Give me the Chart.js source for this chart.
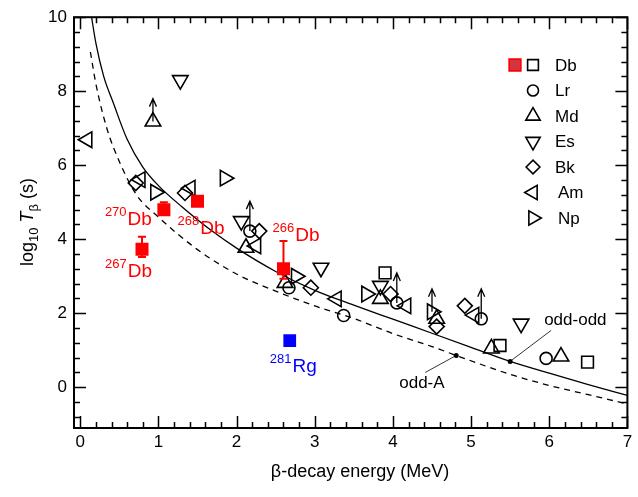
<!DOCTYPE html>
<html>
<head>
<meta charset="utf-8">
<script src="https://cdn.jsdelivr.net/npm/chart.js@4/dist/chart.umd.min.js"></script>
<style>
  html, body { margin: 0; padding: 0; background: #fff; }
  #c { display: block; }
</style>
</head>
<body>
<canvas id="c" width="638" height="497"></canvas>
<script>
// tick values
const xTicks = [0, 1, 2, 3, 4, 5, 6, 7];
const yTicks = [0, 2, 4, 6, 8, 10];

// systematics curves: odd-odd (solid) and odd-A (dashed)
const oddOddE = [0.13, 0.2, 0.3, 0.42, 0.6, 0.8, 1.0, 1.3, 1.7, 2.0, 2.5, 3.0, 3.5, 4.0, 4.5, 5.0, 5.5, 6.0, 6.5, 7.0];
const oddOddT = [10.2, 9.3, 8.4, 7.7, 6.7, 5.95, 5.45, 4.88, 4.2, 3.76, 3.13, 2.62, 2.22, 1.84, 1.46, 1.08, 0.70, 0.38, 0.07, -0.22];
const oddAE = [0.13, 0.2, 0.34, 0.5, 0.72, 1.0, 1.5, 2.0, 2.5, 3.0, 3.5, 4.0, 4.5, 4.81, 5.5, 6.0, 6.5, 7.0];
const oddAT = [9.06, 8.2, 7.0, 6.1, 5.2, 4.6, 3.72, 3.06, 2.6, 2.2, 1.86, 1.45, 1.1, 0.86, 0.35, 0.05, -0.2, -0.45];

// marked points on the curves
const curveDotE = [5.5, 4.81];
const curveDotT = [0.70, 0.86];
const curveDotText = ['odd-odd', 'odd-A'];

// new Db isotopes (red) and 281Rg (blue)
const dbMass = ['270', '268', '267', '266'];
const dbE = [1.07, 1.50, 0.79, 2.60];
const dbT = [4.80, 5.03, 3.73, 3.20];
const dbErrLo = [4.68, null, 3.52, 2.93];
const dbErrHi = [5.00, null, 4.07, 3.95];
const rgMass = ['281'];
const rgE = [2.68];
const rgT = [1.26];

// known nuclei, open symbols
const dbOpenE = [3.90, 5.37, 6.49];
const dbOpenT = [3.09, 1.13, 0.68];
const lrE = [2.17, 2.67, 3.37, 4.05, 5.13, 5.96];
const lrT = [4.22, 2.69, 1.94, 2.28, 1.85, 0.78];
const mdE = [0.93, 2.12, 2.62, 3.84, 4.56, 5.26, 6.15];
const mdT = [7.18, 3.77, 2.82, 2.39, 1.85, 1.05, 0.83];
const esE = [1.28, 2.06, 3.08, 3.84, 5.64];
const esT = [8.30, 4.49, 3.23, 2.74, 1.72];
const bkE = [0.71, 1.34, 2.29, 2.95, 3.97, 4.56, 4.92];
const bkT = [5.52, 5.25, 4.22, 2.69, 2.52, 1.64, 2.20];
const amE = [0.09, 0.77, 1.41, 2.25, 3.28, 4.17, 5.04];
const amT = [6.69, 5.61, 5.38, 3.82, 2.39, 2.20, 1.95];
const npE = [0.96, 1.85, 2.76, 3.66, 4.50];
const npT = [5.27, 5.65, 3.00, 2.52, 2.04];

// lower limits (arrows)
const arrowE = [0.93, 2.17, 4.05, 4.50, 5.13];
const arrowFrom = [7.18, 4.22, 2.28, 2.04, 1.85];
const arrowTo = [7.80, 5.03, 3.09, 2.66, 2.66];

const legendNames = ['Db', 'Lr', 'Md', 'Es', 'Bk', 'Am', 'Np'];

const FONT = '"Liberation Sans", Arial, sans-serif';
const RED = '#ff0000';
const BLUE = '#0000ff';

const symbols = {
  Db: { pointStyle: 'rect', radius: 8.3, rotation: 0 },
  Lr: { pointStyle: 'circle', radius: 6, rotation: 0 },
  Md: { pointStyle: 'triangle', radius: 9, rotation: 0 },
  Es: { pointStyle: 'triangle', radius: 9, rotation: 180 },
  Bk: { pointStyle: 'rectRot', radius: 7.5, rotation: 0 },
  Am: { pointStyle: 'triangle', radius: 9, rotation: 270 },
  Np: { pointStyle: 'triangle', radius: 9, rotation: 90 }
};

function pts(xs, ys) {
  return xs.map((v, i) => ({ x: v, y: ys[i] }));
}

function openSet(name, xs, ys) {
  const s = symbols[name];
  return {
    label: name,
    data: pts(xs, ys),
    showLine: false,
    pointStyle: s.pointStyle,
    pointRadius: s.radius,
    pointRotation: s.rotation,
    pointBorderWidth: 1.6,
    pointBorderColor: '#000',
    pointBackgroundColor: 'rgba(0,0,0,0)',
    order: 2
  };
}

// frame with inward ticks on all sides
const framePlugin = {
  id: 'frame',
  afterDatasetsDraw(chart) {
    const { ctx, chartArea: a, scales: { x, y } } = chart;
    ctx.save();
    ctx.strokeStyle = '#000';
    ctx.lineWidth = 1.5;
    ctx.beginPath();
    for (let i = 0; i <= 35; i++) {
      const px = Math.round(x.getPixelForValue(i * 0.2)) + 0.5;
      const len = i % 5 === 0 ? 12 : 6;
      ctx.moveTo(px, a.bottom); ctx.lineTo(px, a.bottom - len);
      ctx.moveTo(px, a.top); ctx.lineTo(px, a.top + len);
    }
    for (let i = -2; i <= 25; i++) {
      const py = Math.round(y.getPixelForValue(i * 0.4)) + 0.5;
      const len = i % 5 === 0 ? 12 : 6;
      ctx.moveTo(a.left, py); ctx.lineTo(a.left + len, py);
      ctx.moveTo(a.right, py); ctx.lineTo(a.right - len, py);
    }
    ctx.stroke();
    ctx.lineWidth = 2;
    ctx.strokeRect(a.left, a.top, a.right - a.left, a.bottom - a.top);
    ctx.restore();
  }
};

// error bars, arrows, labels, legend, axis titles
const extrasPlugin = {
  id: 'extras',
  afterDatasetsDraw(chart) {
    const { ctx, scales: { x, y } } = chart;
    ctx.save();

    // error bars on Db
    ctx.strokeStyle = RED;
    ctx.lineWidth = 2;
    dbE.forEach((e, i) => {
      if (dbErrLo[i] == null) return;
      const px = x.getPixelForValue(e);
      const lo = y.getPixelForValue(dbErrLo[i]);
      const hi = y.getPixelForValue(dbErrHi[i]);
      ctx.beginPath();
      ctx.moveTo(px, lo); ctx.lineTo(px, hi);
      ctx.moveTo(px - 4, lo); ctx.lineTo(px + 4, lo);
      ctx.moveTo(px - 4, hi); ctx.lineTo(px + 4, hi);
      ctx.stroke();
    });

    // arrows for lower limits
    ctx.strokeStyle = '#000';
    ctx.lineWidth = 1.3;
    arrowE.forEach((e, i) => {
      const px = x.getPixelForValue(e);
      const y0 = y.getPixelForValue(arrowFrom[i]);
      const y1 = y.getPixelForValue(arrowTo[i]);
      ctx.beginPath();
      ctx.moveTo(px, y0); ctx.lineTo(px, y1);
      ctx.moveTo(px - 3.5, y1 + 8); ctx.lineTo(px, y1); ctx.lineTo(px + 3.5, y1 + 8);
      ctx.stroke();
    });

    // odd-odd / odd-A markers with leaders
    const leaders = [[41, -31, 34, -36], [-31, 17, -57, 33]];
    ctx.fillStyle = '#000';
    ctx.lineWidth = 0.8;
    ctx.font = '17px ' + FONT;
    ctx.textAlign = 'left';
    ctx.textBaseline = 'alphabetic';
    curveDotE.forEach((e, i) => {
      const px = x.getPixelForValue(e);
      const py = y.getPixelForValue(curveDotT[i]);
      const [lx, ly, tx, ty] = leaders[i];
      ctx.beginPath();
      ctx.arc(px, py, 2.5, 0, Math.PI * 2);
      ctx.fill();
      ctx.beginPath();
      ctx.moveTo(px, py); ctx.lineTo(px + lx, py + ly);
      ctx.stroke();
      ctx.fillText(curveDotText[i], px + tx, py + ty);
    });

    // isotope labels
    const isoOffsets = [[-59, 15], [-20, 33], [-37, 28], [-11, -28]];
    function iso(mass, sym, px, py, color) {
      ctx.fillStyle = color;
      ctx.font = '13px ' + FONT;
      ctx.fillText(mass, px, py - 9);
      const w = ctx.measureText(mass).width;
      ctx.font = '19px ' + FONT;
      ctx.fillText(sym, px + w + 1, py);
    }
    dbMass.forEach((m, i) => {
      const px = x.getPixelForValue(dbE[i]) + isoOffsets[i][0];
      const py = y.getPixelForValue(dbT[i]) + isoOffsets[i][1];
      iso(m, 'Db', px, py, RED);
    });
    iso(rgMass[0], 'Rg', x.getPixelForValue(rgE[0]) - 20, y.getPixelForValue(rgT[0]) + 31, BLUE);

    // legend
    const lx = 533, ly0 = 65, step = 25.5;
    legendNames.forEach((name, i) => {
      const s = symbols[name];
      const cy = ly0 + i * step;
      ctx.strokeStyle = '#000';
      ctx.fillStyle = 'rgba(0,0,0,0)';
      ctx.lineWidth = 1.6;
      Chart.helpers.drawPoint(ctx, { pointStyle: s.pointStyle, radius: s.radius * 0.92, rotation: s.rotation, borderWidth: 1.6 }, lx, cy);
      if (name === 'Db') {
        ctx.fillStyle = '#d4343f';
        ctx.strokeStyle = RED;
        Chart.helpers.drawPoint(ctx, { pointStyle: 'rect', radius: 8.3, rotation: 0, borderWidth: 1.6 }, 515, cy);
      }
      ctx.fillStyle = '#000';
      ctx.font = '17px ' + FONT;
      ctx.textBaseline = 'middle';
      ctx.fillText(name, (name === 'Am' || name === 'Np') ? 558 : 555, cy + 1);
      ctx.textBaseline = 'alphabetic';
    });

    // x title
    ctx.fillStyle = '#000';
    ctx.font = '18px ' + FONT;
    ctx.textAlign = 'center';
    ctx.fillText('\u03b2-decay energy (MeV)', 360, 477);

    // y title with subscripts
    ctx.translate(33, 222);
    ctx.rotate(-Math.PI / 2);
    const parts = [
      ['log', '18px ' + FONT, 0],
      ['10', '13px ' + FONT, 5],
      [' ', '18px ' + FONT, 0],
      ['T', 'italic 18px ' + FONT, 0],
      ['\u03b2', '13px ' + FONT, 5],
      [' (s)', '18px ' + FONT, 0]
    ];
    let total = 0;
    parts.forEach(p => { ctx.font = p[1]; total += ctx.measureText(p[0]).width; });
    let cx = -total / 2;
    ctx.textAlign = 'left';
    parts.forEach(p => {
      ctx.font = p[1];
      ctx.fillText(p[0], cx, p[2]);
      cx += ctx.measureText(p[0]).width;
    });
    ctx.restore();
  }
};

new Chart(document.getElementById('c'), {
  type: 'scatter',
  data: {
    datasets: [
      {
        label: 'odd-odd',
        data: pts(oddOddE, oddOddT),
        showLine: true,
        borderColor: '#000',
        borderWidth: 1.3,
        pointRadius: 0,
        cubicInterpolationMode: 'monotone',
        order: 5
      },
      {
        label: 'odd-A',
        data: pts(oddAE, oddAT),
        showLine: true,
        borderColor: '#000',
        borderWidth: 1.3,
        borderDash: [6, 5],
        pointRadius: 0,
        cubicInterpolationMode: 'monotone',
        order: 5
      },
      openSet('Db', dbOpenE, dbOpenT),
      openSet('Lr', lrE, lrT),
      openSet('Md', mdE, mdT),
      openSet('Es', esE, esT),
      openSet('Bk', bkE, bkT),
      openSet('Am', amE, amT),
      openSet('Np', npE, npT),
      {
        label: 'Db new',
        data: pts(dbE, dbT),
        pointStyle: 'rect',
        pointRadius: 9.2,
        pointBorderWidth: 0,
        pointBackgroundColor: RED,
        order: 1
      },
      {
        label: 'Rg',
        data: pts(rgE, rgT),
        pointStyle: 'rect',
        pointRadius: 9,
        pointBorderWidth: 0,
        pointBackgroundColor: BLUE,
        order: 1
      }
    ]
  },
  options: {
    responsive: false,
    animation: false,
    devicePixelRatio: 1,
    layout: { padding: { top: 14, right: 8, left: 0, bottom: 0 } },
    plugins: { legend: { display: false }, tooltip: { enabled: false } },
    scales: {
      x: {
        type: 'linear',
        min: -0.08,
        max: 7,
        afterBuildTicks: s => { s.ticks = xTicks.map(v => ({ value: v })); },
        afterFit: s => { s.height = 69; },
        grid: { display: false, drawTicks: false },
        border: { display: false },
        ticks: { color: '#000', font: { size: 17, family: FONT }, padding: 4, maxRotation: 0 }
      },
      y: {
        type: 'linear',
        min: -1.1,
        max: 10,
        afterBuildTicks: s => { s.ticks = yTicks.map(v => ({ value: v })); },
        afterFit: s => { s.width = 74; },
        grid: { display: false, drawTicks: false },
        border: { display: false },
        ticks: { color: '#000', font: { size: 17, family: FONT }, padding: 7 }
      }
    }
  },
  plugins: [framePlugin, extrasPlugin]
});
</script>
</body>
</html>
